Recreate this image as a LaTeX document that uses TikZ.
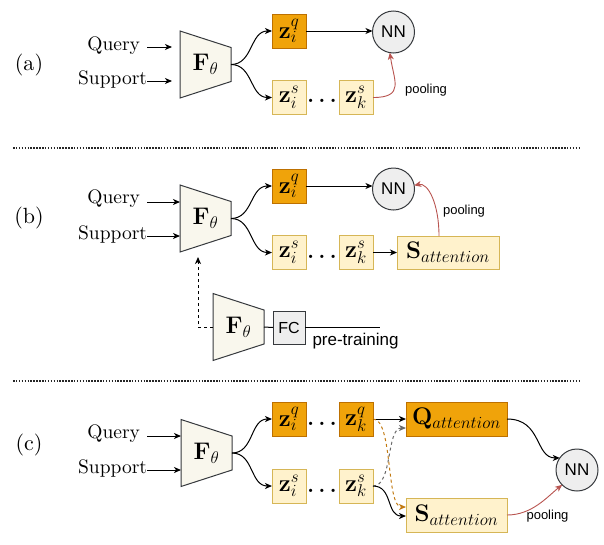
\RequirePackage{fix-cm}
\documentclass[tikz,border=0pt]{standalone}
\usepackage[no-math]{fontspec}
\setmainfont{lmroman10-regular.otf}[BoldFont=lmroman10-bold.otf, ItalicFont=lmroman10-italic.otf, BoldItalicFont=lmroman10-bolditalic.otf]
\newfontfamily\sansf{Liberation Sans}
\usetikzlibrary{arrows.meta,backgrounds,calc}
\DeclareMathSizes{24}{24}{17}{12}
\definecolor{orgfill}{HTML}{F0A30A}
\definecolor{orgdraw}{HTML}{BD7000}
\definecolor{yelfill}{HTML}{FFF2CC}
\definecolor{yeldraw}{HTML}{D6B656}
\definecolor{trapfill}{HTML}{F9F7ED}
\definecolor{darkline}{HTML}{36393D}
\definecolor{nnfill}{HTML}{EEEEEE}
\definecolor{poolred}{HTML}{B85450}
\definecolor{dashorg}{HTML}{C27A12}
\definecolor{dashgray}{HTML}{6A6A6A}
\tikzset{
  every node/.style={inner sep=0pt, outer sep=0pt},
  txt/.style={font=\fontsize{19.5}{22}\selectfont},
  panel/.style={font=\fontsize{22}{24}\selectfont},
  mth/.style={font=\fontsize{24}{26}\selectfont},
  qbox/.style={mth, draw=orgdraw, fill=orgfill, minimum width=34pt, minimum height=34pt, line width=1pt},
  sbox/.style={mth, draw=yeldraw, fill=yelfill, minimum width=34pt, minimum height=34pt, line width=1pt},
  trapnode/.style={mth, minimum width=51pt, minimum height=67pt},
  trapline/.style={draw=darkline, fill=trapfill, line width=1pt},
  nn/.style={circle, draw=darkline, fill=nnfill, minimum size=42pt, line width=1pt, font=\sansf\fontsize{17}{19}\selectfont},
  fcbox/.style={draw=darkline, fill=nnfill, minimum width=32pt, minimum height=33pt, line width=1pt, font=\sansf\fontsize{16}{18}\selectfont},
  lbl/.style={font=\sansf\fontsize{13}{15}\selectfont},
  ptlbl/.style={font=\sansf\fontsize{17}{19}\selectfont},
  dotsnode/.style={font=\bfseries\fontsize{21}{24}\selectfont},
  arr/.style={line width=1pt, -{Stealth[length=7pt,width=6pt,inset=2pt]}},
  plain/.style={line width=1pt},
  dsh/.style={dash pattern=on 3pt off 3pt},
  sep/.style={line width=1.6pt, draw=black!85, dash pattern=on 1.5pt off 1.4pt},
  pool/.style={arr, color=poolred, line width=0.9pt},
}
\newcommand\trapz[1]{\begin{scope}[on background layer]\draw[trapline] (#1.north west) -- ([yshift=-16.5pt]#1.north east) -- ([yshift=16.5pt]#1.south east) -- (#1.south west) -- cycle;\end{scope}}
\newcommand\mydots{.\hspace{4.5pt}.\hspace{4.5pt}.}
\begin{document}
\begin{tikzpicture}[x=1pt,y=-1pt]
\useasboundingbox (0,0) rectangle (604,544);
% ---------------- (a)
\node[panel] (pa) at (29,65) {(a)};
\node[txt,anchor=east] (qa) at (140,46) {Query};
\node[txt,anchor=east] (sa) at (147,80) {Support};
\node[trapnode] (Fa) at (205.5,64.5) {$\mathbf{F}_\theta$};
\trapz{Fa}
\draw[arr] ($(Fa.west)+(-33,-17.5)$) -- ($(Fa.west)+(-8,-17.5)$);
\draw[arr] ($(Fa.west)+(-33,16.5)$) -- ($(Fa.west)+(-8,16.5)$);
\node[qbox] (zqa) at (289,31) {$\mathbf{z}_i^q$};
\node[sbox] (zsia) at (289,97.5) {$\mathbf{z}_i^s$};
\node[dotsnode] (da) at (322,101) {\mydots};
\node[sbox] (zska) at (356,97.5) {$\mathbf{z}_k^s$};
\node[nn] (nna) at (393.5,32) {NN};
\draw[arr] (Fa.east) .. controls +(22,0) and +(-22,0) .. (zqa.west);
\draw[arr] (Fa.east) .. controls +(22,0) and +(-22,0) .. (zsia.west);
\draw[arr] (zqa.east) -- (nna.west |- zqa.east);
\draw[pool] (zska.east) .. controls +(32,0) and +(4,28) .. (nna.-100);
\node[lbl] (pla) at (426,90) {pooling};
\draw[sep] (13,148) -- (580,148);
% ---------------- (b)
\node[panel] (pb) at (29,218) {(b)};
\node[txt,anchor=east] (qb) at (140,199) {Query};
\node[txt,anchor=east] (sb) at (147,235) {Support};
\node[trapnode] (Fb) at (205.5,218.5) {$\mathbf{F}_\theta$};
\trapz{Fb}
\draw[arr] ($(Fb.west)+(-33,-16.5)$) -- ($(Fb.west)+(0,-16.5)$);
\draw[arr] ($(Fb.west)+(-33,17.5)$) -- ($(Fb.west)+(0,17.5)$);
\node[qbox] (zqb) at (289,186) {$\mathbf{z}_i^q$};
\node[sbox] (zsib) at (289,252.5) {$\mathbf{z}_i^s$};
\node[dotsnode] (db) at (322,256.5) {\mydots};
\node[sbox] (zskb) at (356,252.5) {$\mathbf{z}_k^s$};
\node[nn] (nnb) at (393.5,189) {NN};
\node[sbox, minimum width=102pt, minimum height=33pt] (sattb) at (448,252.5) {$\mathbf{S}_{attention}$};
\draw[arr] (Fb.east) .. controls +(22,0) and +(-22,0) .. (zqb.west);
\draw[arr] (Fb.east) .. controls +(22,0) and +(-22,0) .. (zsib.west);
\draw[arr] (zqb.east) -- (nnb.west |- zqb.east);
\draw[arr] (zskb.east) -- (sattb.west);
\draw[pool] ([xshift=-9pt]sattb.north) .. controls +(0,-32) and +(14,-3) .. (nnb.10);
\node[lbl] (plb) at (464,211) {pooling};
\node[trapnode] (Fp) at (238.5,327) {$\mathbf{F}_\theta$};
\trapz{Fp}
\node[fcbox] (fc) at (289,327.5) {FC};
\draw[plain] (Fp.east) -- (fc.west);
\draw[plain] (fc.east) -- ++(75,0);
\node[ptlbl] (pt) at (355.5,341) {pre-training};
\draw[arr,dsh] (Fp.west) -| ($(Fb.south west)+(18,5)$);
\draw[sep] (13,381) -- (580,381);
% ---------------- (c)
\node[panel] (pc) at (29,445) {(c)};
\node[txt,anchor=east] (qc) at (140,434) {Query};
\node[txt,anchor=east] (sc) at (147,469) {Support};
\node[trapnode] (Fc) at (206.5,453) {$\mathbf{F}_\theta$};
\trapz{Fc}
\draw[arr] ($(Fc.west)+(-34,-17)$) -- ($(Fc.west)+(0,-17)$);
\draw[arr] ($(Fc.west)+(-34,17)$) -- ($(Fc.west)+(0,17)$);
\node[qbox] (zqic) at (289,419) {$\mathbf{z}_i^q$};
\node[dotsnode] (dc1) at (322,423.5) {\mydots};
\node[qbox] (zqkc) at (356,419) {$\mathbf{z}_k^q$};
\node[qbox, minimum width=101pt] (qatt) at (456.5,419) {$\mathbf{Q}_{attention}$};
\node[sbox] (zsic) at (289,486) {$\mathbf{z}_i^s$};
\node[dotsnode] (dc2) at (322,490.5) {\mydots};
\node[sbox] (zskc) at (356,486) {$\mathbf{z}_k^s$};
\node[sbox, minimum width=101pt] (satt) at (456.5,515) {$\mathbf{S}_{attention}$};
\node[nn] (nnc) at (577,470) {NN};
\draw[arr] (Fc.east) .. controls +(22,0) and +(-22,0) .. (zqic.west);
\draw[arr] (Fc.east) .. controls +(22,0) and +(-22,0) .. (zsic.west);
\draw[arr] (zqkc.east) -- (qatt.west);
\draw[arr,dsh,color=dashgray] (zskc.east) .. controls +(20,0) and +(-20,0) .. ([yshift=-9pt]qatt.west);
\draw[arr,dsh,color=dashorg] (zqkc.east) .. controls +(20,0) and +(-20,0) .. ([yshift=8pt]satt.west);
\draw[arr] (zskc.east) .. controls +(20,0) and +(-20,0) .. ([yshift=-1pt]satt.west);
\draw[arr] (qatt.east) .. controls +(35,0) and +(-25,0) .. (nnc.145);
\draw[pool] (satt.east) .. controls +(25,0) and +(-15,12) .. (nnc.225);
\node[lbl] (plc) at (547.5,516) {pooling};
\end{tikzpicture}
\end{document}
